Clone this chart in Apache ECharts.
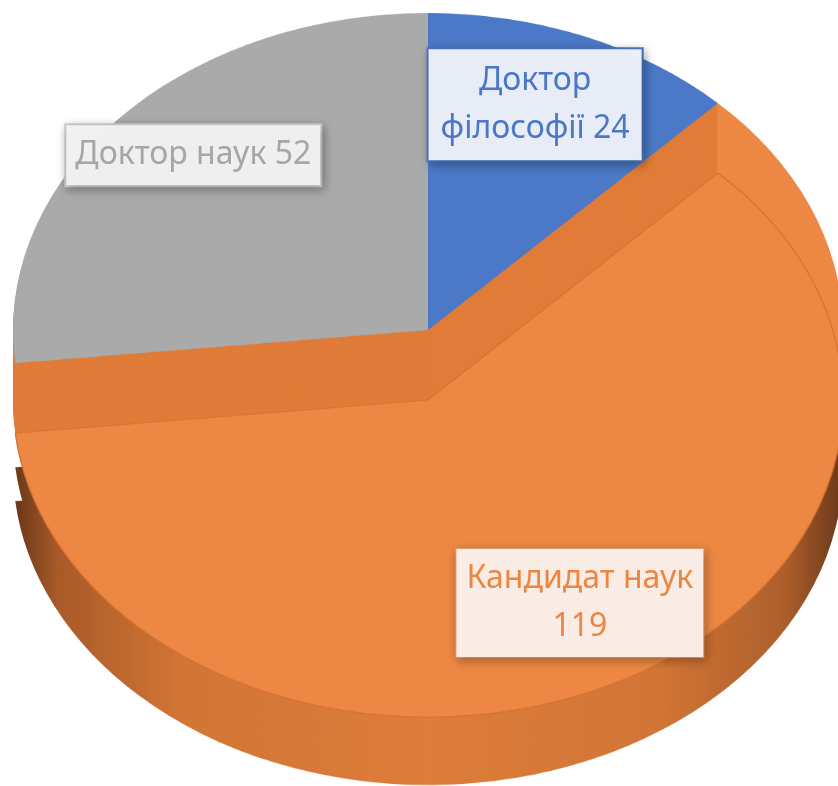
<!DOCTYPE html>
<html lang="uk">
<head>
<meta charset="UTF-8">
<title>Науковий ступінь</title>
<script src="https://cdn.jsdelivr.net/npm/echarts@6.0.0/dist/echarts.min.js"></script>
<style>
    html, body { margin: 0; padding: 0; background: #fff; }
    #wrap { position: relative; width: 838px; height: 786px; overflow: hidden; }
    /* the pie body is drawn round, then squashed into an ellipse */
    #body3d { position: absolute; left: 0; top: 0; width: 838px; height: 1029px;
              transform: scaleY(0.764); transform-origin: 0 0; }
    #labels { position: absolute; left: 0; top: 0; width: 838px; height: 786px; }
</style>
</head>
<body>
<div id="wrap">
    <div id="body3d"></div>
    <div id="labels"></div>
</div>
<script>
// дані
const categories = ['Доктор філософії', 'Кандидат наук', 'Доктор наук'];
const values = [24, 119, 52];

const topColors = ['#4b79c7', '#ec8843', '#aaaaaa'];
const wallColor = '#e07b38';

// geometry (screen px)
const K = 0.764;       // vertical squash of the ellipse
const R = 415;
const CX = 428;
const Y_UPPER = 330;   // centre of blue / grey top face
const Y_LOWER = 400;   // centre of orange top face
const Y_BOTTOM = 468;  // bottom of the orange side wall

const none = 'rgba(0,0,0,0)';

function pieData(colorFn, border) {
    return categories.map((name, i) => ({
        name: name,
        value: values[i],
        itemStyle: Object.assign({ color: colorFn(i) }, border ? border(i) : {})
    }));
}

const sideGradient = new echarts.graphic.LinearGradient(0, 0, 1, 0, [
    { offset: 0, color: '#6a381a' },
    { offset: 0.05, color: '#a85a28' },
    { offset: 0.2, color: '#d27535' },
    { offset: 0.5, color: '#dd7d3b' },
    { offset: 0.78, color: '#d27536' },
    { offset: 0.93, color: '#ad5f2b' },
    { offset: 1, color: '#6a381a' }
]);

function bodyPie(yScreen, colorFn, border) {
    return {
        type: 'pie',
        silent: true,
        animation: false,
        startAngle: 90,
        clockwise: true,
        center: [CX, yScreen / K],
        radius: R,
        label: { show: false },
        labelLine: { show: false },
        data: pieData(colorFn, border)
    };
}

const series = [];
// outer side wall of the orange slice
series.push(bodyPie(Y_BOTTOM, i => i === 1 ? sideGradient : none));
series.push(bodyPie((Y_BOTTOM + Y_LOWER) / 2, i => i === 1 ? sideGradient : none));
// orange top face (upper part)
series.push(bodyPie(Y_UPPER, i => i === 1 ? topColors[1] : none));
// radial walls: blue + grey sector swept down to the orange top level
for (let y = Y_LOWER; y > Y_UPPER; y -= 2) {
    series.push(bodyPie(y, i => i === 1 ? none : wallColor));
}
// blue and grey top faces
series.push(bodyPie(Y_UPPER, i => i === 1 ? none : topColors[i]));
// orange top face (lower part)
series.push(bodyPie(Y_LOWER, i => i === 1 ? topColors[1] : none,
    i => i === 1 ? { borderColor: '#d8722f', borderWidth: 1.3 } : {}));

const bodyChart = echarts.init(document.getElementById('body3d'), null, { renderer: 'canvas' });
bodyChart.setOption({ animation: false, series: series });

// labels, drawn unsquashed on top
const labelStyles = [
    { color: '#4a78c6', backgroundColor: 'rgba(236,241,249,0.97)', borderColor: '#4a78c6', borderWidth: 2,
      padding: [8, 12, 7, 12] },
    { color: '#ec8640', backgroundColor: 'rgba(251,241,234,0.97)', borderColor: '#f0a774', borderWidth: 1,
      padding: [6, 10, 6, 10] },
    { color: '#a6a6a6', backgroundColor: 'rgba(243,243,243,0.97)', borderColor: '#cfcfcf', borderWidth: 2,
      padding: [6, 9, 6, 9] }
];
const labelNudge = [[-13, 0], [13, -16], [2, -12]];

function labelText(p) {
    if (p.dataIndex === 0) return p.name.replace(' ', '\n') + ' ' + p.value;
    if (p.dataIndex === 1) return p.name + '\n' + p.value;
    return p.name + ' ' + p.value;
}

function labelPie(yScreen, shown) {
    return {
        type: 'pie',
        silent: true,
        startAngle: 90,
        clockwise: true,
        center: [CX, yScreen],
        radius: [Math.round(R * 0.52), R],
        itemStyle: { color: none },
        labelLine: { show: false },
        labelLayout: function (params) {
            const r = params.labelRect;
            const mid = r.y + r.height / 2;
            const n = labelNudge[params.dataIndex];
            return { dx: n[0], dy: (mid - yScreen) * (K - 1) + n[1] };
        },
        data: categories.map((name, i) => ({
            name: name,
            value: values[i],
            label: Object.assign({
                show: shown.indexOf(i) >= 0,
                position: 'inside',
                formatter: labelText,
                fontFamily: 'Noto Sans',
                fontSize: 32,
                lineHeight: 48,
                shadowBlur: 10,
                shadowColor: 'rgba(0,0,0,0.28)',
                shadowOffsetX: 2,
                shadowOffsetY: 3
            }, labelStyles[i])
        }))
    };
}

const labelChart = echarts.init(document.getElementById('labels'), null, { renderer: 'canvas' });
labelChart.setOption({
    animation: false,
    series: [
        labelPie(Y_UPPER, [0, 2]),
        labelPie(Y_LOWER, [1])
    ]
});
</script>
</body>
</html>
